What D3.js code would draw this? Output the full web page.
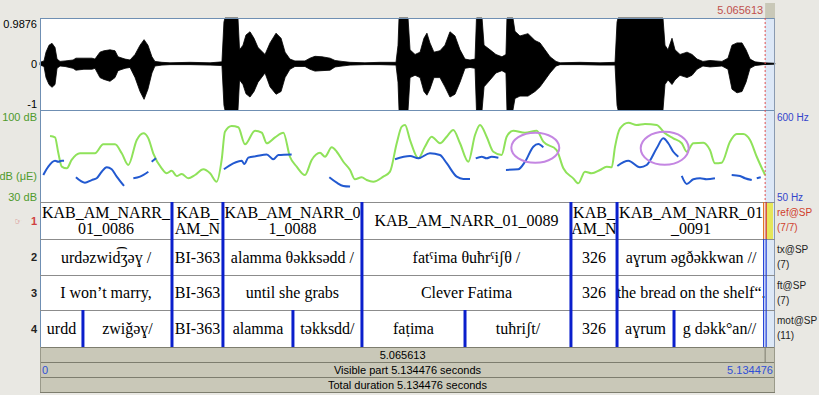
<!DOCTYPE html>
<html><head><meta charset="utf-8">
<script src="https://cdn.jsdelivr.net/npm/d3@7"></script>
<style>body{margin:0;background:#e9e8e3;} svg{display:block}</style>
</head><body><svg id="c" width="819" height="395"></svg>
<script>
// ---------- DATA ----------
const duration = 5.134476;
const cursorTime = 5.065613;
const waveTicks = ["0.9876", "0", "-1"];
const waveTickValues = [0.9876, 0, -1];

const waveTime = [0.000,0.028,0.042,0.063,0.084,0.105,0.119,0.140,0.175,0.231,0.251,0.307,0.363,0.384,0.419,0.447,0.489,0.524,0.545,0.594,0.629,0.664,0.699,0.727,0.754,0.782,0.803,0.852,0.908,1.048,1.188,1.271,1.285,1.292,1.383,1.394,1.418,1.439,1.467,1.495,1.523,1.572,1.607,1.649,1.684,1.712,1.746,1.781,1.851,1.886,1.921,1.970,2.026,2.061,2.110,2.166,2.270,2.375,2.487,2.501,2.508,2.571,2.585,2.620,2.655,2.682,2.703,2.724,2.752,2.794,2.829,2.864,2.899,2.934,2.969,3.004,3.039,3.049,3.088,3.102,3.144,3.185,3.227,3.255,3.262,3.304,3.318,3.353,3.409,3.458,3.493,3.528,3.563,3.605,3.633,3.772,3.912,4.017,4.031,4.038,4.352,4.366,4.387,4.415,4.436,4.471,4.520,4.555,4.590,4.631,4.680,4.764,4.806,4.834,4.869,4.904,4.932,4.960,4.995,5.051,5.134];
const waveHi = [0.03,0.06,0.25,0.40,0.44,0.35,0.10,0.05,0.06,0.08,0.12,0.12,0.12,0.10,0.25,0.28,0.30,0.28,0.15,0.10,0.08,0.20,0.40,0.52,0.40,0.15,0.05,0.03,0.02,0.03,0.02,0.04,0.90,0.987,0.987,0.30,0.40,0.62,0.69,0.55,0.35,0.20,0.45,0.66,0.55,0.25,0.10,0.06,0.06,0.12,0.16,0.15,0.12,0.07,0.05,0.03,0.02,0.03,0.03,0.40,0.987,0.987,0.30,0.20,0.25,0.55,0.66,0.45,0.25,0.28,0.40,0.69,0.60,0.30,0.10,0.08,0.10,0.987,0.987,0.40,0.30,0.20,0.15,0.20,0.987,0.987,0.70,0.60,0.65,0.50,0.45,0.30,0.15,0.05,0.02,0.03,0.02,0.03,0.90,0.987,0.987,0.40,0.30,0.55,0.30,0.20,0.25,0.20,0.10,0.05,0.07,0.05,0.12,0.40,0.45,0.45,0.30,0.10,0.04,0.02,0.01];
const waveLo = [0.03,0.06,0.30,0.45,0.51,0.45,0.10,0.05,0.06,0.10,0.14,0.12,0.12,0.10,0.30,0.34,0.38,0.30,0.15,0.10,0.08,0.30,0.60,0.77,0.55,0.20,0.05,0.03,0.02,0.02,0.03,0.04,0.90,1,1,0.35,0.45,0.65,0.72,0.60,0.40,0.20,0.50,0.66,0.60,0.30,0.12,0.06,0.06,0.12,0.16,0.15,0.14,0.07,0.05,0.03,0.02,0.02,0.03,0.40,1,1,0.30,0.25,0.30,0.60,0.68,0.55,0.30,0.30,0.50,0.72,0.66,0.40,0.10,0.08,0.10,1,1,0.50,0.35,0.20,0.15,0.20,1,1,0.75,0.70,0.70,0.60,0.50,0.35,0.20,0.05,0.02,0.02,0.03,0.03,0.90,1,1,0.45,0.35,0.45,0.35,0.25,0.30,0.25,0.12,0.05,0.07,0.05,0.12,0.55,0.63,0.60,0.40,0.10,0.04,0.02,0.01];

const intensityTime = [0.070,0.105,0.128,0.152,0.187,0.221,0.279,0.384,0.442,0.524,0.571,0.617,0.676,0.722,0.757,0.791,0.850,0.885,0.920,0.955,0.990,1.036,1.083,1.141,1.188,1.234,1.269,1.292,1.339,1.385,1.432,1.502,1.549,1.584,1.642,1.700,1.746,1.793,1.851,1.898,1.956,1.991,2.038,2.073,2.119,2.166,2.200,2.247,2.282,2.328,2.398,2.445,2.492,2.527,2.550,2.585,2.643,2.689,2.736,2.794,2.841,2.887,2.934,2.992,3.039,3.074,3.120,3.167,3.225,3.260,3.306,3.388,3.470,3.516,3.609,3.656,3.725,3.760,3.807,3.854,3.912,3.959,3.994,4.017,4.052,4.110,4.168,4.226,4.308,4.366,4.424,4.483,4.518,4.564,4.634,4.680,4.715,4.762,4.820,4.867,4.913,4.960,5.007,5.065];
const intensityDb = [81.3,80.3,68.1,57.5,56.2,62.7,67.9,67.9,74.9,74.9,67.9,58.8,78.2,83.4,79.5,67.9,56.2,52.3,54.3,50.2,51.8,48.4,51.0,55.4,52.3,45.8,62.7,84.7,89.1,88.1,74.9,85.5,83.9,75.7,80.3,83.9,65.2,57.5,51.0,62.7,68.3,65.2,72.5,69.1,61.3,54.9,47.7,49.2,47.1,45.8,49.7,53.6,75.7,88.6,89.9,78.2,64.0,73.0,80.8,75.7,80.8,86.0,75.7,61.3,82.1,89.9,80.8,69.1,66.6,80.8,85.5,83.9,85.5,76.9,70.4,56.2,48.4,44.5,53.6,52.3,54.9,57.5,57.0,73.0,87.3,91.7,89.9,90.7,89.9,83.4,79.5,75.7,69.1,75.7,76.1,70.4,60.1,60.6,76.9,82.9,82.9,78.2,65.2,51.0];

// pitch: null marks an unvoiced gap
const pitchTime = [0.023,0.058,0.105,0.128,0.152,0.168,null,
  0.251,0.314,0.361,0.396,0.431,0.466,0.501,0.536,0.587,null,
  0.652,0.699,0.757,null,0.780,0.810,null,
  1.285,1.350,1.409,1.427,1.455,1.514,1.584,1.630,1.665,1.758,null,
  2.021,2.073,2.119,2.166,null,
  2.480,2.585,2.643,2.724,2.794,2.841,2.911,2.957,3.004,null,
  3.044,3.086,3.120,3.155,3.202,null,
  3.255,3.341,3.388,3.446,3.481,3.516,null,
  4.033,4.110,4.191,4.238,4.308,4.354,4.389,4.424,4.459,null,
  4.483,4.518,4.564,4.611,4.657,4.715,null,
  4.832,4.890,4.925,4.972,null,5.007,5.035];
const pitchHz = [215,266,302,296,302,302,null,
  201,168,184,195,235,262,250,205,148,null,
  195,205,235,null,296,317,null,
  250,286,302,282,321,331,341,311,337,341,null,
  201,168,148,144,null,
  311,331,317,348,337,287,205,191,191,null,
  317,327,317,327,321,null,
  246,250,296,388,404,384,null,
  270,302,262,276,378,439,409,357,327,null,
  209,160,189,195,189,195,null,
  215,209,195,184,null,195,201];

const highlightTime = [3.460, 4.364];
const highlightHz = [382, 378];

const tierNames = ["ref@SP", "tx@SP", "ft@SP", "mot@SP"];
const tierCounts = ["(7/7)", "(7)", "(7)", "(11)"];
const tierNumbers = ["1", "2", "3", "4"];
const boundsMain = [0, 0.922, 1.278, 2.249, 3.709, 4.031, 5.065613, 5.134476];
const boundsMot = [0, 0.300, 0.922, 1.278, 1.767, 2.249, 2.969, 3.709, 4.031, 4.429, 5.065613, 5.134476];
const labelsRef = [["KAB_AM_NARR_", "01_0086"], ["KAB_", "AM_N"], ["KAB_AM_NARR_0", "1_0088"], ["KAB_AM_NARR_01_0089"], ["KAB_", "AM_N"], ["KAB_AM_NARR_01", "_0091"], [""]];
const labelsTx = ["urdəzwid\u0361ʒəɣ /", "BI-363", "alamma θəkksədd /", "fatˤima θuħrˤiʃθ /", "326", "aɣrum əgðəkkwan //", ""];
const labelsFt = ["I won\u2019t marry,", "BI-363", "until she grabs", "Clever Fatima", "326", "the bread on the shelf\u201c.", ""];
const labelsMot = ["urdd", "zwiǧəɣ/", "BI-363", "alamma", "təkksdd/", "faṭima", "tuħriʃt/", "326", "aɣrum", "g dəkk°an//", ""];

// ---------- DRAW ----------
const svg = d3.select("#c");
const L = 40, R = 775;
const x = d3.scaleLinear().domain([0, duration]).range([L, R]);
const yW = d3.scaleLinear().domain([-1, 0.9876]).range([110, 18]);
const yDb = d3.scaleLinear().domain([30, 100]).range([202, 112]);
const yHz = d3.scaleLinear().domain([50, 600]).range([202, 112]);
const xc = x(cursorTime);
const sans = "Liberation Sans, Arial, sans-serif";
const serif = "Liberation Serif, Times New Roman, serif";

svg.append("rect").attr("width", 819).attr("height", 395).attr("fill", "#e9e8e3");

// top bar
svg.append("rect").attr("x", xc).attr("y", 3).attr("width", R - xc).attr("height", 15).attr("fill", "#c9c8b8");
svg.append("text").attr("x", xc - 2).attr("y", 14).attr("text-anchor", "end")
  .attr("font-family", sans).attr("font-size", 11).attr("fill", "#c0504d").text(d3.format(".6f")(cursorTime));

// panels background
svg.append("rect").attr("x", L).attr("y", 18).attr("width", xc - L).attr("height", 329).attr("fill", "#fff");
svg.append("rect").attr("x", xc).attr("y", 18).attr("width", R - xc).attr("height", 329).attr("fill", "#dde8f7");

// waveform
const wave = waveTime.map((t, i) => ({t, hi: waveHi[i], lo: waveLo[i]}));
svg.append("path").datum(wave)
  .attr("d", d3.area().x(d => x(d.t)).y0(d => yW(-d.lo)).y1(d => yW(d.hi)))
  .attr("fill", "#000").attr("stroke", "#000").attr("stroke-width", 0.8);
svg.append("g").selectAll("text").data(waveTickValues).join("text")
  .attr("x", 37).attr("y", d => yW(d)).attr("dy", (d, i) => i === 0 ? "0.9em" : (i === 2 ? "-0.15em" : "0.35em"))
  .attr("text-anchor", "end").attr("font-family", sans).attr("font-size", 11).attr("fill", "#000")
  .text((d, i) => waveTicks[i]);

// intensity
const inten = intensityTime.map((t, i) => ({t, v: intensityDb[i]}));
svg.append("path").datum(inten)
  .attr("d", d3.line().x(d => x(d.t)).y(d => yDb(d.v)).curve(d3.curveMonotoneX))
  .attr("fill", "none").attr("stroke", "#8fe25a").attr("stroke-width", 2);
// pitch
const pitch = pitchTime.map((t, i) => ({t, v: pitchHz[i]}));
svg.append("path").datum(pitch)
  .attr("d", d3.line().defined(d => d.t !== null).x(d => x(d.t)).y(d => yHz(d.v)).curve(d3.curveMonotoneX))
  .attr("fill", "none").attr("stroke", "#2259d0").attr("stroke-width", 2);
// highlight ellipses
svg.append("g").selectAll("ellipse").data(highlightTime).join("ellipse")
  .attr("cx", d => x(d)).attr("cy", (d, i) => yHz(highlightHz[i])).attr("rx", 24).attr("ry", (d, i) => i ? 16.5 : 15)
  .attr("fill", "none").attr("stroke", "#c486e2").attr("stroke-width", 2);

// pitch panel labels
const lab = (xx, yy, t, col, anchor, size) => svg.append("text").attr("x", xx).attr("y", yy)
  .attr("text-anchor", anchor || "end").attr("font-family", sans).attr("font-size", size || 11).attr("fill", col).text(t);
lab(37, 121, "100 dB", "#4f9a2c");
lab(37, 180, "dB (\u03bcE)", "#4f9a2c");
lab(37, 201, "30 dB", "#4f9a2c");
lab(777, 121, "600 Hz", "#3344cc", "start", 10);
lab(777, 201, "50 Hz", "#3344cc", "start", 10);

// panel frame lines
svg.append("line").attr("x1", L).attr("x2", R).attr("y1", 18.5).attr("y2", 18.5).attr("stroke", "#6f8fb3");
svg.append("line").attr("x1", L).attr("x2", R).attr("y1", 110.5).attr("y2", 110.5).attr("stroke", "#6f8fb3");
svg.append("line").attr("x1", L + 0.5).attr("x2", L + 0.5).attr("y1", 18).attr("y2", 347).attr("stroke", "#6f8fb3");
svg.append("line").attr("x1", R - 0.5).attr("x2", R - 0.5).attr("y1", 18).attr("y2", 347).attr("stroke", "#8a9ab0");
svg.append("line").attr("x1", xc).attr("x2", xc).attr("y1", 18).attr("y2", 202)
  .attr("stroke", "#e05050").attr("stroke-width", 1).attr("stroke-dasharray", "2,2");

// tiers
const tierTop = [202, 239, 275, 310, 347];
const tiers = [
  {b: boundsMain, labels: labelsRef},
  {b: boundsMain, labels: labelsTx},
  {b: boundsMain, labels: labelsFt},
  {b: boundsMot, labels: labelsMot}
];
// yellow selected interval in tier 1
svg.append("rect").attr("x", xc + 1).attr("y", tierTop[0]).attr("width", R - xc - 3).attr("height", tierTop[1] - tierTop[0]).attr("fill", "#e6e65a");
tierTop.forEach(yy => svg.append("line").attr("x1", L).attr("x2", R).attr("y1", yy + 0.5).attr("y2", yy + 0.5).attr("stroke", "#8c8c8c").attr("stroke-width", 1.2));

tiers.forEach((tier, k) => {
  const y0 = tierTop[k], y1 = tierTop[k + 1], cy = (y0 + y1) / 2;
  const g = svg.append("g");
  // text
  tier.labels.forEach((lbl, i) => {
    const cx = (x(tier.b[i]) + x(tier.b[i + 1])) / 2;
    const lines = Array.isArray(lbl) ? lbl : [lbl];
    const t = g.append("text").attr("x", cx).attr("text-anchor", "middle")
      .attr("font-family", serif).attr("font-size", 16).attr("fill", "#000");
    lines.forEach((ln, j) => {
      t.append("tspan").attr("x", cx).attr("y", cy + 5.5 + (j - (lines.length - 1) / 2) * 16).text(ln);
    });
  });
  // boundaries
  tier.b.slice(1, -1).forEach(bt => {
    if (bt === cursorTime) {
      const c1 = k === 0 ? "#e0701c" : "#1f3fd8", c2 = k === 0 ? "#d42a2a" : "#1f3fd8";
      g.append("line").attr("x1", x(bt) - 1.5).attr("x2", x(bt) - 1.5).attr("y1", y0).attr("y2", y1).attr("stroke", c1).attr("stroke-width", 1.2);
      g.append("line").attr("x1", x(bt) + 1).attr("x2", x(bt) + 1).attr("y1", y0).attr("y2", y1).attr("stroke", c2).attr("stroke-width", 1.2);
    } else {
      g.append("line").attr("x1", x(bt)).attr("x2", x(bt)).attr("y1", y0).attr("y2", y1).attr("stroke", "#0a1fcc").attr("stroke-width", 3);
    }
  });
  // tier number
  g.append("text").attr("x", 37).attr("y", cy + 4).attr("text-anchor", "end").attr("font-family", sans)
    .attr("font-size", 11).attr("font-weight", "bold").attr("fill", k === 0 ? "#d04040" : "#222").text(tierNumbers[k]);
  if (k === 0) g.append("text").attr("x", 22).attr("y", cy + 3).attr("text-anchor", "end").attr("font-family", "DejaVu Sans")
    .attr("font-size", 8).attr("fill", "#d04040").text("\u261E");
  // right labels
  const col = k === 0 ? "#d0402c" : "#222";
  lab(777, y0 + 14, tierNames[k], col, "start", 10);
  lab(777, y0 + 29, tierCounts[k], col, "start", 10);
});

// bottom bars
const bars = [[347, 362], [362, 377], [377, 392]];
bars.forEach(([a, b]) => {
  svg.append("rect").attr("x", L).attr("y", a).attr("width", R - L).attr("height", b - a).attr("fill", "#c9c8b8");
  svg.append("line").attr("x1", L).attr("x2", R).attr("y1", a + 0.5).attr("y2", a + 0.5).attr("stroke", "#7d7d6e");
});
svg.append("line").attr("x1", L).attr("x2", R).attr("y1", 392.5).attr("y2", 392.5).attr("stroke", "#7d7d6e");
svg.append("line").attr("x1", xc).attr("x2", xc).attr("y1", 347).attr("y2", 362).attr("stroke", "#7d7d6e");
svg.append("line").attr("x1", L + 0.5).attr("x2", L + 0.5).attr("y1", 347).attr("y2", 392).attr("stroke", "#9a9a8a");
svg.append("line").attr("x1", R - 0.5).attr("x2", R - 0.5).attr("y1", 347).attr("y2", 392).attr("stroke", "#9a9a8a");
const fmt = d3.format(".6f");
lab((L + xc) / 2, 358.5, fmt(cursorTime), "#000", "middle", 11);
lab(42, 373.5, "0", "#2f4fd6", "start", 11);
lab((L + R) / 2, 373.5, "Visible part " + fmt(duration) + " seconds", "#000", "middle", 11);
lab(R - 2, 373.5, fmt(duration), "#2f4fd6", "end", 11);
lab((L + R) / 2, 388.5, "Total duration " + fmt(duration) + " seconds", "#000", "middle", 11);
</script></body></html>
